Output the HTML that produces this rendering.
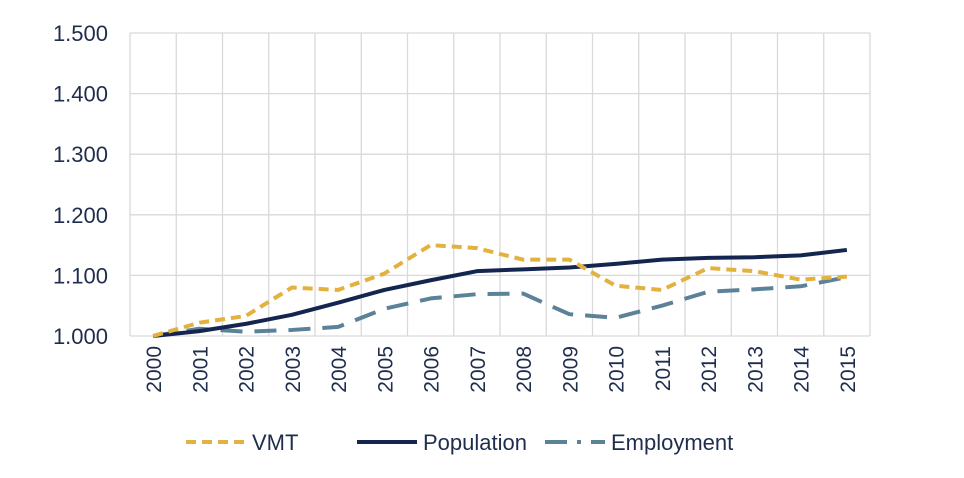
<!DOCTYPE html>
<html><head><meta charset="utf-8"><style>
body{margin:0;background:#fff;}
svg text{font-family:"Liberation Sans",sans-serif;fill:#1f2d4d;}
</style></head><body>
<svg id="chart" width="964" height="473" xmlns="http://www.w3.org/2000/svg"></svg>
<script>
const categories=["2000","2001","2002","2003","2004","2005","2006","2007","2008","2009","2010","2011","2012","2013","2014","2015"];
const vmt=[1.000,1.022,1.033,1.080,1.076,1.103,1.150,1.145,1.126,1.126,1.083,1.076,1.112,1.107,1.093,1.098];
const population=[1.000,1.008,1.020,1.035,1.055,1.076,1.092,1.107,1.110,1.113,1.119,1.126,1.129,1.130,1.133,1.142];
const employment=[1.000,1.012,1.007,1.010,1.015,1.045,1.062,1.069,1.070,1.036,1.030,1.050,1.073,1.077,1.082,1.097];
const yTicks=[1.0,1.1,1.2,1.3,1.4,1.5];
const yTickLabels=["1.000","1.100","1.200","1.300","1.400","1.500"];
const NS="http://www.w3.org/2000/svg";
const svg=document.getElementById('chart');
const L=130,R=870,T=33,B=336,yMin=1.0,yMax=1.5;
const bw=(R-L)/categories.length;
const x=i=>L+bw*(i+0.5);
const y=v=>B-(v-yMin)/(yMax-yMin)*(B-T);
function mk(tag,attrs){const e=document.createElementNS(NS,tag);for(const k in attrs)e.setAttribute(k,attrs[k]);svg.appendChild(e);return e;}
yTicks.forEach((t,i)=>{
 const g=mk('line',{x1:L,x2:R,y1:y(t),y2:y(t),stroke:'#d9d9d9','stroke-width':1.3});
 
 
 const tx=mk('text',{x:108,y:y(t)+8,'text-anchor':'end','font-size':22});
 tx.textContent=yTickLabels[i];
 
 
});
for(let i=0;i<=categories.length;i++){
 const g=mk('line',{x1:L+bw*i,x2:L+bw*i,y1:T,y2:B,stroke:'#d9d9d9','stroke-width':1.3});
 
 
}
categories.forEach((c,i)=>{
 const tx=mk('text',{x:0,y:0,'text-anchor':'end','font-size':21,transform:`translate(${x(i)+8},${B+10}) rotate(-90)`});
 tx.textContent=c;
 
 
});
const series=[
 {name:'Employment',data:employment,color:'#5b8299',dash:'22 12'},
 {name:'Population',data:population,color:'#14254f',dash:''},
 {name:'VMT',data:vmt,color:'#e3b13e',dash:'10 6'}
];
series.forEach(s=>{
 const p=mk('polyline',{points:s.data.map((v,i)=>x(i)+','+y(v)).join(' '),fill:'none',stroke:s.color,'stroke-width':4,'stroke-dasharray':s.dash,'stroke-linejoin':'round'});
 
 
});
const legend=[{name:'VMT',color:'#e3b13e',dash:'10 6',x:186},{name:'Population',color:'#14254f',dash:'',x:357},{name:'Employment',color:'#5b8299',dash:'22 10 4 10',x:545}];
legend.forEach(l=>{
 const ln=mk('line',{x1:l.x,x2:l.x+60,y1:442,y2:442,stroke:l.color,'stroke-width':4,'stroke-dasharray':l.dash});
 
 
 const tx=mk('text',{x:l.x+66,y:450,'font-size':22});
 tx.textContent=l.name;
 
 
});
</script>
</body></html>
